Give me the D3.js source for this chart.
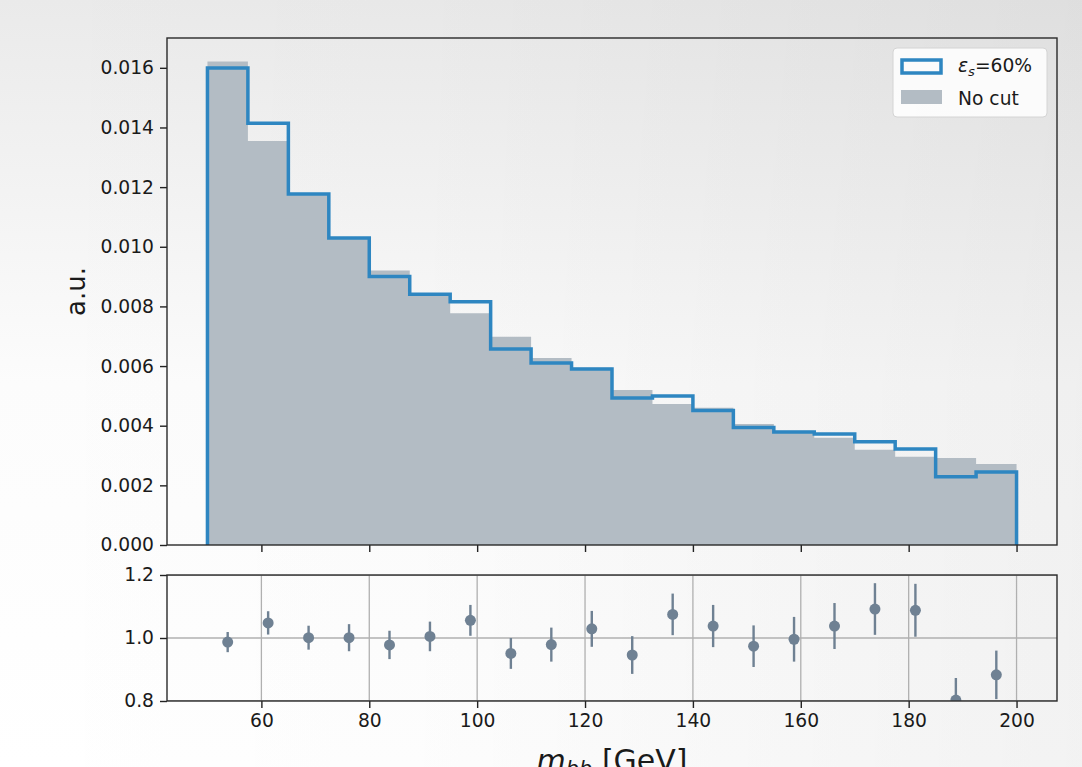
<!DOCTYPE html>
<html>
<head>
<meta charset="utf-8">
<script src="https://cdn.jsdelivr.net/npm/d3@7"></script>
<style>
  html, body { margin: 0; padding: 0; background: #fff; }
  svg { display: block; font-family: "DejaVu Sans", sans-serif; }
</style>
</head>
<body>
<svg id="chart" width="1082" height="767"></svg>
<script>
// ---- data ----
const binEdges = [50, 57.5, 65, 72.5, 80, 87.5, 95, 102.5, 110, 117.5, 125, 132.5, 140, 147.5, 155, 162.5, 170, 177.5, 185, 192.5, 200];
const cutValues = [0.01599, 0.01414, 0.01177, 0.01029, 0.00900, 0.00841, 0.00816, 0.00657, 0.00610, 0.00590, 0.00493, 0.00500, 0.00451, 0.00394, 0.00379, 0.00372, 0.00346, 0.00322, 0.00229, 0.00245];
const noCutValues = [0.01621, 0.01355, 0.01177, 0.01028, 0.00920, 0.00838, 0.00777, 0.00698, 0.00627, 0.00594, 0.00520, 0.00473, 0.00460, 0.00406, 0.00383, 0.00360, 0.00319, 0.00296, 0.00292, 0.00272];
const ratioCenters = [53.75, 61.25, 68.75, 76.25, 83.75, 91.25, 98.75, 106.25, 113.75, 121.25, 128.75, 136.25, 143.75, 151.25, 158.75, 166.25, 173.75, 181.25, 188.75, 196.25];
const ratioValues = [0.987, 1.048, 1.001, 1.001, 0.978, 1.005, 1.056, 0.951, 0.979, 1.029, 0.946, 1.075, 1.038, 0.974, 0.996, 1.038, 1.092, 1.088, 0.803, 0.883];
const ratioErrors = [0.032, 0.037, 0.038, 0.043, 0.045, 0.047, 0.049, 0.049, 0.054, 0.057, 0.060, 0.066, 0.067, 0.066, 0.071, 0.073, 0.082, 0.084, 0.070, 0.077];
const xTicks = [60, 80, 100, 120, 140, 160, 180, 200];
const yTicksTop = [0, 0.002, 0.004, 0.006, 0.008, 0.010, 0.012, 0.014, 0.016];
const yTicksRatio = [0.8, 1.0, 1.2];
const legendLabels = ["=60%", "No cut"];

// ---- styles ----
const BLUE = "#2e86c1";
const GRAY = "#b3bcc4";
const PT = "#6f8193";
const FONT = 18.7;

const svg = d3.select("#chart");
const W = 1082, H = 767;

// background gradients
const defs = svg.append("defs");
const gv = defs.append("linearGradient").attr("id", "bgv")
  .attr("x1", 0).attr("y1", 1).attr("x2", 0).attr("y2", 0);
gv.append("stop").attr("offset", 0).attr("stop-color", "#ffffff");
gv.append("stop").attr("offset", 0.5).attr("stop-color", "#fcfcfc");
gv.append("stop").attr("offset", 1).attr("stop-color", "#eaeaea");
const gh = defs.append("linearGradient").attr("id", "bgh")
  .attr("x1", 0).attr("y1", 0).attr("x2", 1).attr("y2", 0);
gh.append("stop").attr("offset", 0).attr("stop-color", "#000").attr("stop-opacity", 0);
gh.append("stop").attr("offset", 0.4).attr("stop-color", "#000").attr("stop-opacity", 0.01);
gh.append("stop").attr("offset", 1).attr("stop-color", "#000").attr("stop-opacity", 0.05);
svg.append("rect").attr("width", W).attr("height", H).attr("fill", "url(#bgv)");
svg.append("rect").attr("width", W).attr("height", H).attr("fill", "url(#bgh)");

const L = 167, R = 1057;
const topT = 38, topB = 545;
const botT = 575, botB = 701;

const x = d3.scaleLinear().domain([42.5, 207.5]).range([L, R]);
const yTop = d3.scaleLinear().domain([0, 0.017]).range([topB, topT]);
const yBot = d3.scaleLinear().domain([0.8, 1.2]).range([botB, botT]);

defs.append("clipPath").attr("id", "clipTop").append("rect")
  .attr("x", L).attr("y", topT).attr("width", R - L).attr("height", topB - topT);
defs.append("clipPath").attr("id", "clipBot").append("rect")
  .attr("x", L).attr("y", botT).attr("width", R - L).attr("height", botB - botT);

// ---- top panel ----
const gTop = svg.append("g").attr("clip-path", "url(#clipTop)");
const fillPts = [[binEdges[0], 0]];
noCutValues.forEach((v, i) => { fillPts.push([binEdges[i], v]); fillPts.push([binEdges[i + 1], v]); });
fillPts.push([binEdges[binEdges.length - 1], 0]);
gTop.append("path")
  .attr("d", d3.line().x(d => x(d[0])).y(d => yTop(d[1]))(fillPts) + "Z")
  .attr("fill", GRAY).attr("stroke", "none");

const stepPts = [[binEdges[0], 0]];
cutValues.forEach((v, i) => { stepPts.push([binEdges[i], v]); stepPts.push([binEdges[i + 1], v]); });
stepPts.push([binEdges[binEdges.length - 1], 0]);
gTop.append("path")
  .attr("d", d3.line().x(d => x(d[0])).y(d => yTop(d[1]))(stepPts))
  .attr("fill", "none").attr("stroke", BLUE).attr("stroke-width", 3.5)
  .attr("stroke-linejoin", "miter");

function styleAxis(g) {
  g.selectAll(".domain").remove();
  g.selectAll(".tick line").attr("stroke", "#222").attr("stroke-width", 1.4);
  g.selectAll(".tick text").attr("fill", "#1a1a1a").attr("font-size", FONT)
    .attr("font-family", "DejaVu Sans, sans-serif");
}

svg.append("g").attr("transform", `translate(${L},0)`)
  .call(d3.axisLeft(yTop).tickValues(yTicksTop).tickFormat(d3.format(".3f")).tickSize(7).tickPadding(6))
  .call(styleAxis);
svg.append("g").attr("transform", `translate(0,${topB})`)
  .call(d3.axisBottom(x).tickValues(xTicks).tickFormat("").tickSize(7))
  .call(styleAxis);

svg.append("rect").attr("x", L).attr("y", topT).attr("width", R - L).attr("height", topB - topT)
  .attr("fill", "none").attr("stroke", "#2a2a2a").attr("stroke-width", 1.4);

// legend
const lg = svg.append("g");
lg.append("rect").attr("x", 893).attr("y", 48).attr("width", 154).attr("height", 69)
  .attr("rx", 4).attr("fill", "#ffffff").attr("fill-opacity", 0.85)
  .attr("stroke", "#d4d4d4").attr("stroke-width", 1);
lg.append("rect").attr("x", 902).attr("y", 60).attr("width", 39).attr("height", 13)
  .attr("fill", "none").attr("stroke", BLUE).attr("stroke-width", 3.5);
lg.append("rect").attr("x", 901).attr("y", 90).attr("width", 41).attr("height", 14)
  .attr("fill", GRAY);
const t1 = lg.append("text").attr("x", 958).attr("y", 72).attr("font-size", FONT).attr("fill", "#1a1a1a");
t1.append("tspan").attr("font-style", "italic").text("ε");
t1.append("tspan").attr("font-style", "italic").attr("font-size", FONT * 0.7).attr("dy", 3.5).text("s");
t1.append("tspan").attr("dy", -3.5).text(legendLabels[0]);
lg.append("text").attr("x", 958).attr("y", 105).attr("font-size", FONT).attr("fill", "#1a1a1a").text(legendLabels[1]);

// y label
svg.append("text").attr("transform", `translate(85,${(topT + topB) / 2}) rotate(-90)`)
  .attr("text-anchor", "middle").attr("font-size", 26).attr("fill", "#1a1a1a").text("a.u.");

// ---- bottom panel ----
const gBot = svg.append("g").attr("clip-path", "url(#clipBot)");
gBot.selectAll("line.vg").data(xTicks).join("line").attr("class", "vg")
  .attr("x1", d => x(d)).attr("x2", d => x(d)).attr("y1", botT).attr("y2", botB)
  .attr("stroke", "#b0b0b0").attr("stroke-width", 1.3);
gBot.selectAll("line.hg").data(yTicksRatio).join("line").attr("class", "hg")
  .attr("x1", L).attr("x2", R).attr("y1", d => yBot(d)).attr("y2", d => yBot(d))
  .attr("stroke", "#b0b0b0").attr("stroke-width", 1.3);
gBot.selectAll("line.err").data(ratioValues).join("line").attr("class", "err")
  .attr("x1", (d, i) => x(ratioCenters[i])).attr("x2", (d, i) => x(ratioCenters[i]))
  .attr("y1", (d, i) => yBot(d - ratioErrors[i])).attr("y2", (d, i) => yBot(d + ratioErrors[i]))
  .attr("stroke", PT).attr("stroke-width", 2.4);
gBot.selectAll("circle.pt").data(ratioValues).join("circle").attr("class", "pt")
  .attr("cx", (d, i) => x(ratioCenters[i])).attr("cy", d => yBot(d)).attr("r", 5.5)
  .attr("fill", PT);

svg.append("g").attr("transform", `translate(${L},0)`)
  .call(d3.axisLeft(yBot).tickValues(yTicksRatio).tickFormat(d3.format(".1f")).tickSize(7).tickPadding(6))
  .call(styleAxis);
svg.append("g").attr("transform", `translate(0,${botB})`)
  .call(d3.axisBottom(x).tickValues(xTicks).tickFormat(d3.format("d")).tickSize(7).tickPadding(6))
  .call(styleAxis);
svg.append("rect").attr("x", L).attr("y", botT).attr("width", R - L).attr("height", botB - botT)
  .attr("fill", "none").attr("stroke", "#2a2a2a").attr("stroke-width", 1.4);

// x label (partly below the bottom edge, as in the reference)
const xl = svg.append("text").attr("x", (L + R) / 2).attr("y", 771).attr("text-anchor", "middle")
  .attr("font-size", 30).attr("fill", "#1a1a1a");
xl.append("tspan").attr("font-style", "italic").text("m");
xl.append("tspan").attr("font-style", "italic").attr("font-size", 21).attr("dy", 5).text("bb");
xl.append("tspan").attr("dy", -5).text(" [GeV]");
</script>
</body>
</html>
